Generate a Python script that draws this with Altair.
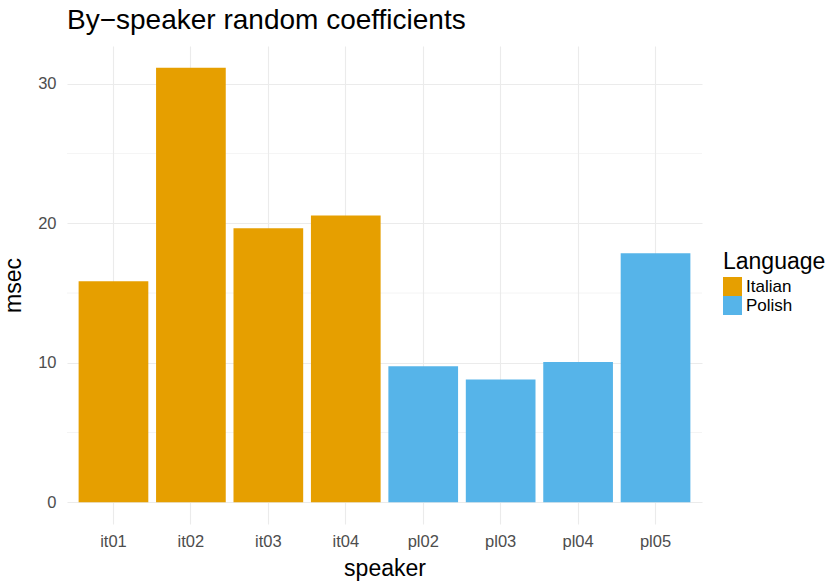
import altair as alt
import pandas as pd

speakers = ["it01", "it02", "it03", "it04", "pl02", "pl03", "pl04", "pl05"]
msec = [15.85, 31.15, 19.65, 20.55, 9.75, 8.8, 10.05, 17.85]
language = ["Italian", "Italian", "Italian", "Italian", "Polish", "Polish", "Polish", "Polish"]
minor_ticks = [5, 15, 25]
major_ticks = [0, 10, 20, 30]

df = pd.DataFrame({"speaker": speakers, "msec": msec, "Language": language})
minor_df = pd.DataFrame({"v": minor_ticks})

FONT = "Liberation Sans"
ydom = [-1.56, 32.71]

bars = alt.Chart(df).mark_bar().encode(
    x=alt.X("speaker:N", sort=speakers,
            scale=alt.Scale(paddingInner=0.1, paddingOuter=0.15),
            axis=alt.Axis(title="speaker", labelAngle=0, labelFontSize=16.5, labelColor="#4D4D4D",
                          labelPadding=9, titleFontSize=23, titleColor="#000000", titleFontWeight="normal",
                          titlePadding=8, domain=False, ticks=False, grid=True, gridColor="#EBEBEB",
                          gridWidth=1.1, bandPosition=0.5)),
    y=alt.Y("msec:Q", scale=alt.Scale(domain=ydom, nice=False, zero=False),
            axis=alt.Axis(title="msec", values=major_ticks, labelFontSize=16.5, labelColor="#4D4D4D",
                          labelPadding=11, titleFontSize=23, titleColor="#000000", titleFontWeight="normal",
                          titlePadding=12, domain=False, ticks=False, grid=True, gridColor="#EBEBEB",
                          gridWidth=1.1)),
    y2=alt.datum(0),
    color=alt.Color("Language:N",
                    scale=alt.Scale(domain=["Italian", "Polish"], range=["#E69F00", "#56B4E9"]),
                    legend=alt.Legend(title="Language", orient="none", legendX=656, legendY=205,
                                      titleFontSize=23, titleFontWeight="normal", titleColor="#000000",
                                      labelFontSize=17, labelColor="#000000", symbolType="square",
                                      symbolSize=361, symbolStrokeWidth=0, symbolOpacity=1,
                                      labelOffset=4, rowPadding=0, titlePadding=3)),
)

minor = alt.Chart(minor_df).mark_rule(color="#EBEBEB", strokeWidth=0.55).encode(
    y=alt.Y("v:Q", scale=alt.Scale(domain=ydom, nice=False, zero=False))
)

chart = alt.layer(minor, bars).properties(
    width=635, height=478,
    title=alt.TitleParams("By\u2212speaker random coefficients", anchor="start", frame="group",
                          fontSize=28, font=FONT, fontWeight="normal", color="#000000", offset=11),
    autosize=alt.AutoSizeParams(type="none"),
    padding={"left": 67, "top": 46, "right": 129, "bottom": 58},
).configure(font=FONT).configure_view(stroke=None).configure_axis(labelFont=FONT, titleFont=FONT
).configure_legend(labelFont=FONT, titleFont=FONT)

chart.save("out.html", embed_options={"renderer": "svg", "actions": False})
